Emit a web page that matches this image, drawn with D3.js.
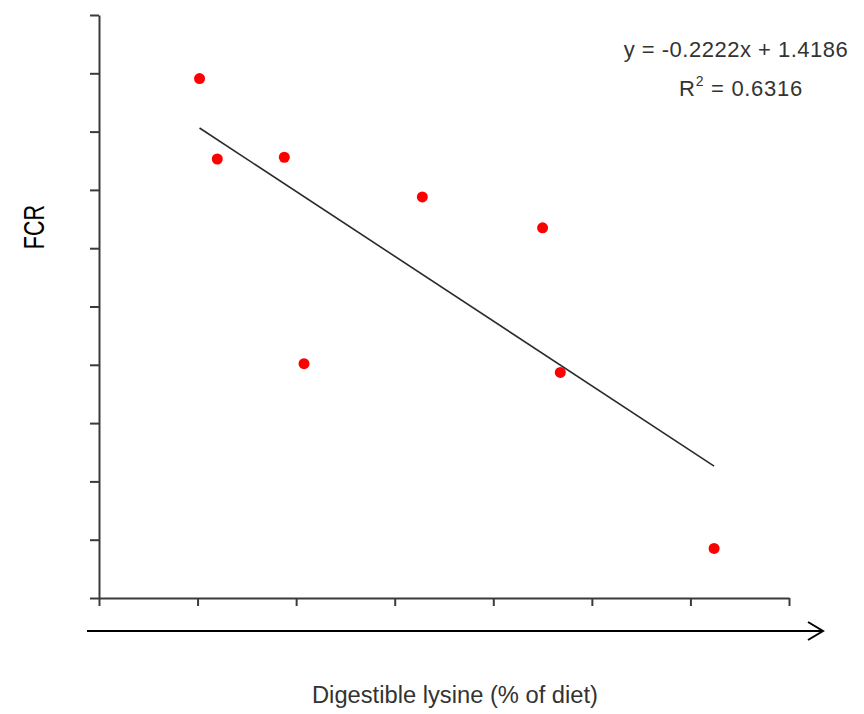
<!DOCTYPE html>
<html>
<head>
<meta charset="utf-8">
<script src="https://cdn.jsdelivr.net/npm/d3@7"></script>
<style>
  html, body { margin: 0; padding: 0; background: #ffffff; }
  svg { display: block; font-family: "Liberation Sans", Arial, sans-serif; }
</style>
</head>
<body>
<svg id="chart" width="864" height="714"></svg>
<script>
// ---- data ----
const lysine = [0.801, 0.810, 0.844, 0.854, 0.914, 0.975, 0.984, 1.062];
const fcr    = [1.2491, 1.2353, 1.2356, 1.2002, 1.2288, 1.2235, 1.1987, 1.1685];
const xTicks = [0.75, 0.80, 0.85, 0.90, 0.95, 1.00, 1.05, 1.10];
const yTicks = [1.16, 1.17, 1.18, 1.19, 1.20, 1.21, 1.22, 1.23, 1.24, 1.25, 1.26];
const slope = -0.2222, intercept = 1.4186, r2 = 0.6316;
const xTitle = "Digestible lysine (% of diet)";
const yTitle = "FCR";

const svg = d3.select("#chart");
const x = d3.scaleLinear().domain([0.75, 1.10]).range([99, 789]);
const y = d3.scaleLinear().domain([1.16, 1.26]).range([598, 15]);
const axisColor = "#3a3a3a";

// y axis
const gy = svg.append("g").attr("transform", `translate(${x(0.75)},0)`)
  .call(d3.axisLeft(y).tickValues(yTicks).tickFormat("").tickSize(9).tickSizeOuter(0));
// x axis
const gx = svg.append("g").attr("transform", `translate(0,${y(1.16)})`)
  .call(d3.axisBottom(x).tickValues(xTicks).tickFormat("").tickSize(8).tickSizeOuter(0));
[gx, gy].forEach(g => {
  g.select(".domain").attr("stroke", axisColor).attr("stroke-width", 2);
  g.selectAll(".tick line").attr("stroke", axisColor).attr("stroke-width", 2);
});

// trend line
const xMin = d3.min(lysine), xMax = d3.max(lysine);
svg.append("line")
  .attr("x1", x(xMin)).attr("y1", y(slope * xMin + intercept))
  .attr("x2", x(xMax)).attr("y2", y(slope * xMax + intercept))
  .attr("stroke", "#2a2a2a").attr("stroke-width", 1.6);

// points
svg.append("g").selectAll("circle").data(lysine).join("circle")
  .attr("cx", (d) => x(d))
  .attr("cy", (d, i) => y(fcr[i]))
  .attr("r", 5.5)
  .attr("fill", "#ff0000");

// equation text
svg.append("text")
  .attr("x", 736).attr("y", 57)
  .attr("text-anchor", "middle").attr("font-size", 22).attr("fill", "#333")
  .attr("letter-spacing", 0.5)
  .text(`y = ${slope.toFixed(4)}x + ${intercept.toFixed(4)}`);

const r2t = svg.append("text")
  .attr("x", 741).attr("y", 96)
  .attr("text-anchor", "middle").attr("font-size", 22).attr("fill", "#333")
  .attr("letter-spacing", 0.7);
r2t.append("tspan").text("R");
r2t.append("tspan").attr("font-size", 14).attr("dy", -10).text("2");
r2t.append("tspan").attr("dy", 10).text(` = ${r2.toFixed(4)}`);

// arrow below the x axis
svg.append("line").attr("x1", 87).attr("y1", 631).attr("x2", 823).attr("y2", 631)
  .attr("stroke", "#000").attr("stroke-width", 2);
svg.append("path").attr("d", "M808,622 L823,631 L808,640")
  .attr("fill", "none").attr("stroke", "#000").attr("stroke-width", 2);

// axis titles
svg.append("text")
  .attr("x", 455).attr("y", 703)
  .attr("text-anchor", "middle").attr("font-size", 23).attr("fill", "#333")
  .attr("textLength", 286).attr("lengthAdjust", "spacingAndGlyphs")
  .text(xTitle);
svg.append("text")
  .attr("transform", "translate(43.5,227) rotate(-90) scale(0.72,1)")
  .attr("text-anchor", "middle").attr("font-size", 30).attr("fill", "#000")
  .text(yTitle);
</script>
</body>
</html>
